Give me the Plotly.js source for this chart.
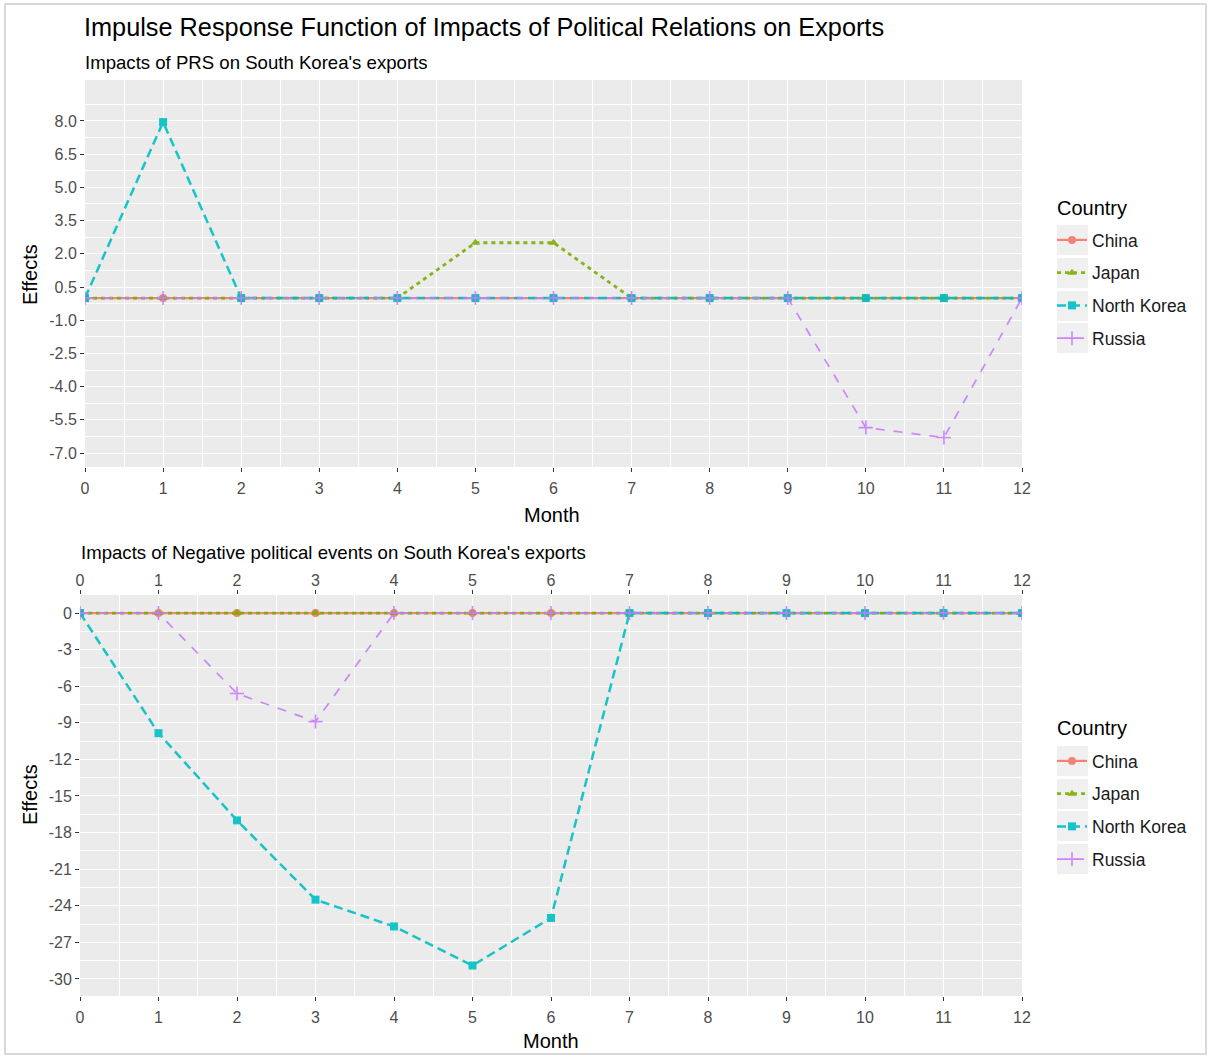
<!DOCTYPE html>
<html>
<head>
<meta charset="utf-8">
<script src="https://cdn.plot.ly/plotly-3.0.1.min.js"></script>
<style>html,body{margin:0;padding:0;background:#fff}</style>
</head>
<body>
<div id="chart" style="width:1209px;height:1057px"></div>
<script>
// Months after the shock
const months = [0, 1, 2, 3, 4, 5, 6, 7, 8, 9, 10, 11, 12];
const countries = ['China', 'Japan', 'North Korea', 'Russia'];

// Responses to a PRS shock
const prsChina      = [0, 0, 0, 0, 0, 0, 0, 0, 0, 0, 0, 0, 0];
const prsJapan      = [0, 0, 0, 0, 0, 2.5, 2.5, 0, 0, 0, 0, 0, 0];
const prsNorthKorea = [0, 7.95, 0, 0, 0, 0, 0, 0, 0, 0, 0, 0, 0];
const prsRussia     = [0, 0, 0, 0, 0, 0, 0, 0, 0, 0, -5.85, -6.3, 0];

// Responses to negative political events
const negChina      = [0, 0, 0, 0, 0, 0, 0, 0, 0, 0, 0, 0, 0];
const negJapan      = [0, 0, 0, 0, 0, 0, 0, 0, 0, 0, 0, 0, 0];
const negNorthKorea = [0, -9.85, -17.0, -23.5, -25.7, -28.9, -25.0, 0, 0, 0, 0, 0, 0];
const negRussia     = [0, 0, -6.6, -8.9, 0, 0, 0, 0, 0, 0, 0, 0, 0];

// Tick labels
const monthTicks = months;
const monthTickText = ['0','1','2','3','4','5','6','7','8','9','10','11','12'];
const prsTicks = [-7, -5.5, -4, -2.5, -1, 0.5, 2, 3.5, 5, 6.5, 8];
const prsTickText = ['-7.0','-5.5','-4.0','-2.5','-1.0','0.5','2.0','3.5','5.0','6.5','8.0'];
const negTicks = [-30, -27, -24, -21, -18, -15, -12, -9, -6, -3, 0];
const negTickText = ['-30','-27','-24','-21','-18','-15','-12','-9','-6','-3','0'];

// ggplot-style hue palette and per-country line/marker styles
const colors  = ['#F8766D', '#7CAE00', '#00BFC4', '#C77CFF'];
const symbols = ['circle', 'triangle-up', 'square', 'cross-thin-open'];
const dashes  = ['solid', '4px,4px', '9px,5px', '9px,9px'];
const widths  = [2.2, 2.8, 2.5, 1.7];

const FONT = 'Liberation Sans, Arial, sans-serif';

function makeTrace(i, ys, xa, ya, legendName) {
  return {
    type: 'scatter',
    mode: 'lines+markers',
    name: countries[i],
    x: months,
    y: ys,
    xaxis: xa,
    yaxis: ya,
    legend: legendName,
    legendgroup: legendName + countries[i],
    opacity: 0.9,
    line: {color: colors[i], width: widths[i], dash: dashes[i]},
    marker: {
      color: colors[i],
      symbol: symbols[i],
      size: i === 3 ? 10 : 8,
      line: {color: colors[i], width: i === 3 ? 1.6 : 0}
    },
    hoverinfo: 'x+y+name'
  };
}

const prsSeries = [prsChina, prsJapan, prsNorthKorea, prsRussia];
const negSeries = [negChina, negJapan, negNorthKorea, negRussia];

const traces = [];
prsSeries.forEach((ys, i) => traces.push(makeTrace(i, ys, 'x', 'y', 'legend')));
// Russia (drawn last) sits on the duplicated top month axis of the lower panel
negSeries.forEach((ys, i) => traces.push(makeTrace(i, ys, i === 3 ? 'x3' : 'x2', 'y2', 'legend2')));

const W = 1209, H = 1057;
const px = v => v / W;
const py = v => 1 - v / H;

const gridCommon = {
  showgrid: true,
  gridcolor: '#ffffff',
  gridwidth: 1.2,
  zeroline: false,
  showline: false,
  ticks: 'outside',
  ticklen: 4,
  tickwidth: 1,
  tickcolor: '#333333',
  tickfont: {family: FONT, size: 16, color: '#4d4d4d'},
  fixedrange: true
};

const xCommon = Object.assign({}, gridCommon, {
  range: [0, 12],
  tickmode: 'array',
  tickvals: monthTicks,
  ticktext: monthTickText,
  ticklabelstandoff: 3,
  minor: {tickmode: 'linear', tick0: 0.5, dtick: 1, showgrid: true, gridcolor: '#ffffff', gridwidth: 0.5, ticks: ''}
});

const legendCommon = {
  xanchor: 'left',
  yanchor: 'top',
  bgcolor: 'rgba(0,0,0,0)',
  font: {family: FONT, size: 17.5, color: '#1a1a1a'},
  tracegroupgap: 7,
  traceorder: 'grouped',
  itemwidth: 30
};

// Light grey key boxes behind the legend symbols
const keyRows = [240, 273, 306, 338, 761, 794, 826, 859];
const keyShapes = keyRows.map(r => ({
  type: 'rect', xref: 'paper', yref: 'paper',
  x0: px(1057), x1: px(1088), y0: py(r + 15), y1: py(r - 15),
  line: {width: 0}, fillcolor: '#f0f0f0', layer: 'below'
}));

const layout = {
  width: W,
  height: H,
  margin: {l: 0, r: 0, t: 0, b: 0},
  paper_bgcolor: '#ffffff',
  plot_bgcolor: '#ebebeb',
  font: {family: FONT, color: '#000000'},
  title: {
    text: 'Impulse Response Function of Impacts of Political Relations on Exports',
    font: {family: FONT, size: 25.3, color: '#000000'},
    x: px(84), xref: 'paper', xanchor: 'left',
    y: py(27), yref: 'paper', yanchor: 'middle'
  },
  xaxis: Object.assign({}, xCommon, {domain: [px(85), px(1022)], anchor: 'y'}),
  yaxis: Object.assign({}, gridCommon, {
    domain: [py(467), py(80)], anchor: 'x',
    range: [-7.63, 9.85],
    tickmode: 'array', tickvals: prsTicks, ticktext: prsTickText,
    minor: {tickmode: 'linear', tick0: -6.25, dtick: 1.5, showgrid: true, gridcolor: '#ffffff', gridwidth: 0.5, ticks: ''}
  }),
  xaxis2: Object.assign({}, xCommon, {domain: [px(80), px(1022)], anchor: 'y2'}),
  xaxis3: Object.assign({}, xCommon, {
    overlaying: 'x2', anchor: 'y2', side: 'top', ticklabelstandoff: -2,
    showgrid: false, minor: {showgrid: false}
  }),
  yaxis2: Object.assign({}, gridCommon, {
    domain: [py(996), py(595)], anchor: 'x2',
    range: [-31.4, 1.48],
    tickmode: 'array', tickvals: negTicks, ticktext: negTickText,
    minor: {tickmode: 'linear', tick0: -1.5, dtick: 3, showgrid: true, gridcolor: '#ffffff', gridwidth: 0.5, ticks: ''}
  }),
  legend: Object.assign({}, legendCommon, {x: px(1052), y: py(222)}),
  legend2: Object.assign({}, legendCommon, {x: px(1052), y: py(743)}),
  annotations: [
    {text: "Impacts of PRS on South Korea's exports", xref: 'paper', yref: 'paper',
     x: px(83), y: py(62), xanchor: 'left', yanchor: 'middle', showarrow: false,
     font: {family: FONT, size: 18.6, color: '#000000'}},
    {text: "Impacts of Negative political events on South Korea's exports", xref: 'paper', yref: 'paper',
     x: px(79), y: py(552), xanchor: 'left', yanchor: 'middle', showarrow: false,
     font: {family: FONT, size: 18.6, color: '#000000'}},
    {text: 'Country', xref: 'paper', yref: 'paper', x: px(1055), y: py(208),
     xanchor: 'left', yanchor: 'middle', showarrow: false,
     font: {family: FONT, size: 20, color: '#000000'}},
    {text: 'Country', xref: 'paper', yref: 'paper', x: px(1055), y: py(728),
     xanchor: 'left', yanchor: 'middle', showarrow: false,
     font: {family: FONT, size: 20, color: '#000000'}},
    {text: 'Month', xref: 'paper', yref: 'paper', x: px(552), y: py(515),
     xanchor: 'center', yanchor: 'middle', showarrow: false,
     font: {family: FONT, size: 20, color: '#000000'}},
    {text: 'Month', xref: 'paper', yref: 'paper', x: px(551), y: py(1041),
     xanchor: 'center', yanchor: 'middle', showarrow: false,
     font: {family: FONT, size: 20, color: '#000000'}},
    {text: 'Effects', xref: 'paper', yref: 'paper', x: px(30), y: py(275), textangle: -90,
     xanchor: 'center', yanchor: 'middle', showarrow: false,
     font: {family: FONT, size: 20, color: '#000000'}},
    {text: 'Effects', xref: 'paper', yref: 'paper', x: px(30), y: py(795), textangle: -90,
     xanchor: 'center', yanchor: 'middle', showarrow: false,
     font: {family: FONT, size: 20, color: '#000000'}}
  ],
  shapes: [
    {type: 'rect', xref: 'paper', yref: 'paper', x0: px(5), x1: px(1206), y0: py(1054), y1: py(4),
     line: {color: '#d9d9d9', width: 2}, fillcolor: 'rgba(0,0,0,0)', layer: 'below'}
  ].concat(keyShapes),
  showlegend: true
};

Plotly.newPlot('chart', traces, layout, {displayModeBar: false});
</script>
</body>
</html>
